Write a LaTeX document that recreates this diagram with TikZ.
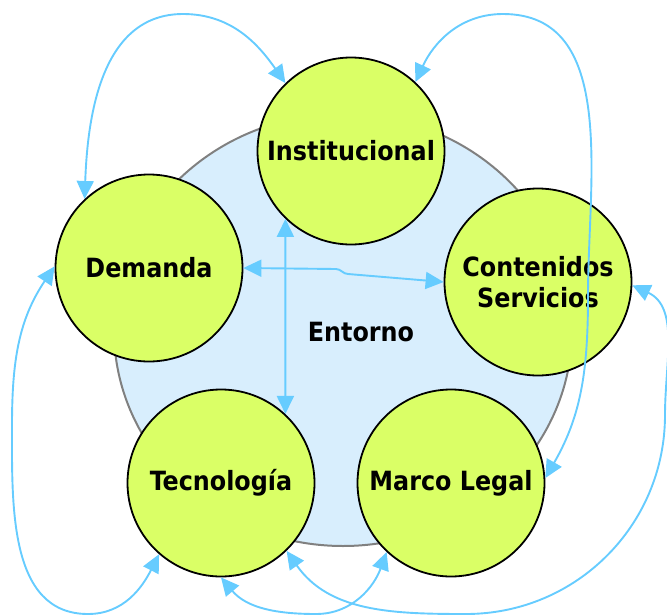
\documentclass[tikz,border=0pt]{standalone}
\usepackage{fontspec}
\newfontfamily\factorfont{DejaVu Sans Condensed}[BoldFont={DejaVu Sans Condensed Bold}]
\usetikzlibrary{arrows.meta}
\definecolor{lima}{RGB}{218,255,102}
\definecolor{cielo}{RGB}{216,238,253}
\definecolor{flecha}{RGB}{102,204,255}

\begin{document}
\begin{tikzpicture}[x=1pt, y=1pt,
  rotulo/.style = {font=\factorfont\bfseries\fontsize{26.5}{31}\selectfont, align=center},
  factor/.style = {rotulo, shape=circle, draw, line width=1.8pt,
    fill=lima, minimum size=187pt, inner sep=0pt},
  conn/.style = {draw=flecha, line width=1.9pt,
    {Triangle[length=18pt,width=17pt]}-{Triangle[length=18pt,width=17pt]}}]
  \useasboundingbox (0,0) rectangle (667,-616);
  % entorno
  \draw[fill=cielo, draw=gray, line width=2pt] (343,-330) ellipse [x radius=229pt, y radius=216pt];
  \node[rotulo] (ent) at (361,-332) {Entorno};
  % factores
  \node[factor] (ins) at (351,-151) {Institucional};
  \node[factor] (dem) at (149,-268) {Demanda};
  \node[factor] (con) at (538,-282) {Contenidos\\Servicios};
  \node[factor] (tec) at (221,-483) {Tecnología};
  \node[factor] (mar) at (451,-483) {Marco Legal};
  % puntos de paso
  \coordinate (p1) at (183,-14);
  \coordinate (p2) at (503,-14);
  \coordinate (q2) at (588,-295);
  \coordinate (w1) at (336,-269);
  \coordinate (w2) at (348,-274);
  \coordinate (l5) at (12,-425);
  \coordinate (b5) at (88,-614);
  \coordinate (b6) at (316,-614);
  \coordinate (b7) at (466,-614);
  \coordinate (r7) at (665,-415);
  % relaciones
  \draw[conn] (dem.133) to[out=88,in=180] (p1) to[out=0,in=125] (ins.134);
  \draw[conn] (ins.47) to[out=65,in=180] (p2) to[out=0,in=90] (q2) to[out=-90,in=60] (mar.3);
  \draw[conn] (ins.226) -- (tec.47);
  \draw[conn] (dem.east) -- (w1) to[out=0,in=180] (w2) -- (con.west);
  \draw[conn] (dem.179) to[out=236,in=90] (l5) to[out=-90,in=180] (b5) to[out=0,in=243] (tec.229);
  \draw[conn] (tec.south) to[out=-50,in=180] (b6) to[out=0,in=250] (mar.227);
  \draw[conn] (tec.314) to[out=-55,in=180] (b7) to[out=0,in=-90] (r7) to[out=90,in=-25] (con.358);
\end{tikzpicture}
\end{document}
